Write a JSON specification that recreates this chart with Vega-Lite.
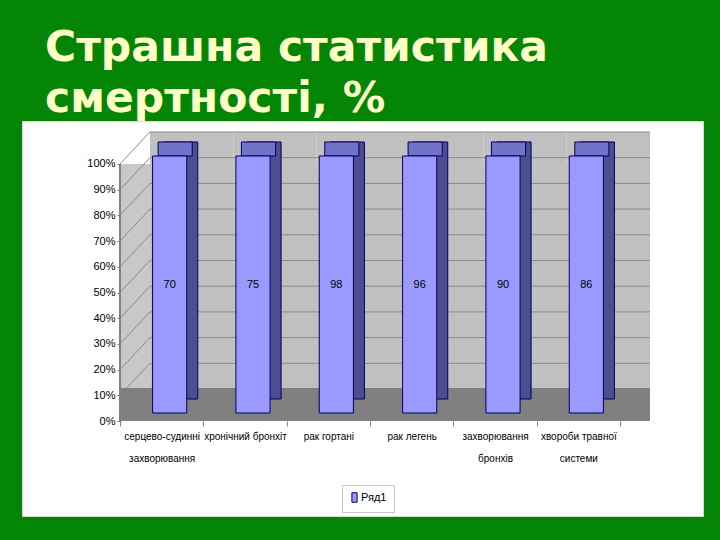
{
  "$schema": "https://vega.github.io/schema/vega-lite/v6.json",
  "width": 681,
  "height": 395,
  "autosize": "none",
  "padding": {"left": 22, "top": 121, "right": 17, "bottom": 24},
  "background": "#058505",
  "config": {
    "view": {"fill": "white", "stroke": "#d8d8d8"},
    "font": "Liberation Sans",
    "axis": {"labelOverlap": false, "labelSeparation": 0}
  },
  "title": {
    "text": ["Страшна статистика", "смертності, %"],
    "font": "DejaVu Sans",
    "fontWeight": "bold",
    "fontSize": 42.5,
    "color": "#ffffc8",
    "anchor": "start",
    "frame": "group",
    "dx": 23,
    "dy": 41,
    "lineHeight": 51,
    "baseline": "alphabetic",
    "offset": 8
  },
  "datasets": {
    "main": [
      {"cat": "серцево-судинні захворювання", "value": 70, "series": "Ряд1"},
      {"cat": "хронічний бронхіт", "value": 75, "series": "Ряд1"},
      {"cat": "рак гортані", "value": 98, "series": "Ряд1"},
      {"cat": "рак легень", "value": 96, "series": "Ряд1"},
      {"cat": "захворювання бронхів", "value": 90, "series": "Ряд1"},
      {"cat": "хвороби травної системи", "value": 86, "series": "Ряд1"}
    ],
    "grid": [
      {"p": 0.1}, {"p": 0.2}, {"p": 0.3}, {"p": 0.4}, {"p": 0.5},
      {"p": 0.6}, {"p": 0.7}, {"p": 0.8}, {"p": 0.9}, {"p": 1.0}
    ]
  },
  "data": {"name": "main"},
  "layer": [
    {
      "mark": {"type": "rect", "fill": "#c8c8c8"},
      "encoding": {
        "x": {
          "field": "cat", "type": "nominal", "sort": null,
          "scale": {
            "type": "band",
            "domain": ["серцево-судинні захворювання", "хронічний бронхіт", "рак гортані", "рак легень", "захворювання бронхів", "хвороби травної системи"],
            "range": [98, 598],
            "paddingInner": 0, "paddingOuter": 0
          },
          "axis": {
            "title": null,
            "domain": false,
            "tickBand": "extent",
            "tickSize": 5,
            "tickColor": "#808080",
            "labelAngle": 0,
            "labelPadding": 5,
            "labelFontSize": 10,
            "labelColor": "#000000",
            "labelLineHeight": 22,
            "labelBaseline": "top",
            "labelOverlap": false,
            "offset": -95,
            "labelExpr": "length(datum.label) > 17 ? [substring(datum.label, 0, lastindexof(datum.label, ' ')), substring(datum.label, lastindexof(datum.label, ' ') + 1)] : datum.label"
          }
        },
        "y": {
          "datum": 0, "type": "quantitative",
          "scale": {"domain": [-0.3696, 1.1673], "nice": false, "zero": false}
        },
        "y2": {"datum": 1}
      }
    },
    {
      "mark": {"type": "rect", "fill": "#c0c0c0", "xOffset": 30, "x2Offset": 30, "yOffset": -32, "y2Offset": -32},
      "encoding": {
        "x": {"field": "cat", "type": "nominal", "sort": null},
        "y": {"datum": 0, "type": "quantitative"},
        "y2": {"datum": 1}
      }
    },
    {
      "data": {"name": "grid"},
      "mark": {"type": "rule", "stroke": "#8a8a8a", "strokeWidth": 1, "xOffset": -11.67, "x2Offset": 71.67, "yOffset": -32},
      "encoding": {
        "x": {"datum": "серцево-судинні захворювання", "type": "nominal"},
        "x2": {"datum": "хвороби травної системи"},
        "y": {"field": "p", "type": "quantitative"}
      }
    },
    {
      "data": {"name": "grid"},
      "mark": {"type": "rule", "stroke": "#8a8a8a", "strokeWidth": 1, "xOffset": -41.67, "x2Offset": -11.67, "y2Offset": -32},
      "encoding": {
        "x": {"datum": "серцево-судинні захворювання", "type": "nominal"},
        "x2": {"datum": "серцево-судинні захворювання"},
        "y": {"field": "p", "type": "quantitative"},
        "y2": {"field": "p"}
      }
    },
    {
      "mark": {"type": "rect", "fill": "#808080", "y2Offset": -33},
      "encoding": {
        "x": {"field": "cat", "type": "nominal", "sort": null},
        "y": {"datum": 0, "type": "quantitative"},
        "y2": {"datum": 0}
      }
    },
    {
      "mark": {"type": "rect", "fill": "#808080", "xOffset": 30, "x2Offset": 30, "y2Offset": -33},
      "encoding": {
        "x": {"field": "cat", "type": "nominal", "sort": null},
        "y": {"datum": 0, "type": "quantitative"},
        "y2": {"datum": 0}
      }
    },
    {
      "mark": {"type": "rule", "stroke": "#808080", "strokeWidth": 1, "xOffset": -41.67},
      "encoding": {
        "x": {"datum": "серцево-судинні захворювання", "type": "nominal"},
        "y": {"datum": 0, "type": "quantitative"},
        "y2": {"datum": 1}
      }
    },
    {
      "mark": {"type": "bar", "fill": "#4d4d8f", "stroke": "#000060", "strokeWidth": 1, "width": {"band": 0.41}, "xOffset": 19, "yOffset": -22, "y2Offset": -22},
      "encoding": {
        "x": {"field": "cat", "type": "nominal", "sort": null},
        "y": {"field": "value", "type": "quantitative", "stack": "normalize"}
      }
    },
    {
      "mark": {"type": "bar", "fill": "#7272c8", "stroke": "#000060", "strokeWidth": 1, "width": {"band": 0.41}, "xOffset": 13.5, "yOffset": -22, "y2Offset": -8},
      "encoding": {
        "x": {"field": "cat", "type": "nominal", "sort": null},
        "y": {"datum": 1, "type": "quantitative"},
        "y2": {"datum": 1}
      }
    },
    {
      "mark": {"type": "bar", "stroke": "#000060", "strokeWidth": 1, "width": {"band": 0.41}, "xOffset": 8, "yOffset": -8, "y2Offset": -8},
      "encoding": {
        "x": {"field": "cat", "type": "nominal", "sort": null},
        "y": {
          "field": "value", "type": "quantitative", "stack": "normalize",
          "axis": {
            "title": null,
            "values": [0, 0.1, 0.2, 0.3, 0.4, 0.5, 0.6, 0.7, 0.8, 0.9, 1],
            "tickCount": 30,
            "format": ".0%",
            "domain": false,
            "grid": false,
            "tickSize": 4,
            "tickColor": "#808080",
            "labelPadding": 2,
            "labelFontSize": 11,
            "labelColor": "#000000",
            "labelOverlap": false,
            "labelSeparation": 0,
            "offset": -99
          }
        },
        "color": {
          "field": "series", "type": "nominal",
          "scale": {"range": ["#9999ff"]},
          "legend": {
            "title": null,
            "orient": "none",
            "legendX": 320,
            "legendY": 364,
            "padding": 7,
            "fillColor": "#ffffff",
            "strokeColor": "#c8c8c8",
            "symbolType": "M-0.55,-1H0.55V1H-0.55Z",
            "symbolSize": 90,
            "symbolStrokeColor": "#000060",
            "symbolStrokeWidth": 1,
            "labelFontSize": 11,
            "labelColor": "#000000",
            "labelOffset": 1
          }
        }
      }
    },
    {
      "mark": {"type": "text", "fontSize": 11, "color": "#000000", "xOffset": 8, "yOffset": -8},
      "encoding": {
        "x": {"field": "cat", "type": "nominal", "sort": null},
        "y": {"datum": 0.5, "type": "quantitative"},
        "text": {"field": "value", "type": "quantitative"}
      }
    }
  ]
}
